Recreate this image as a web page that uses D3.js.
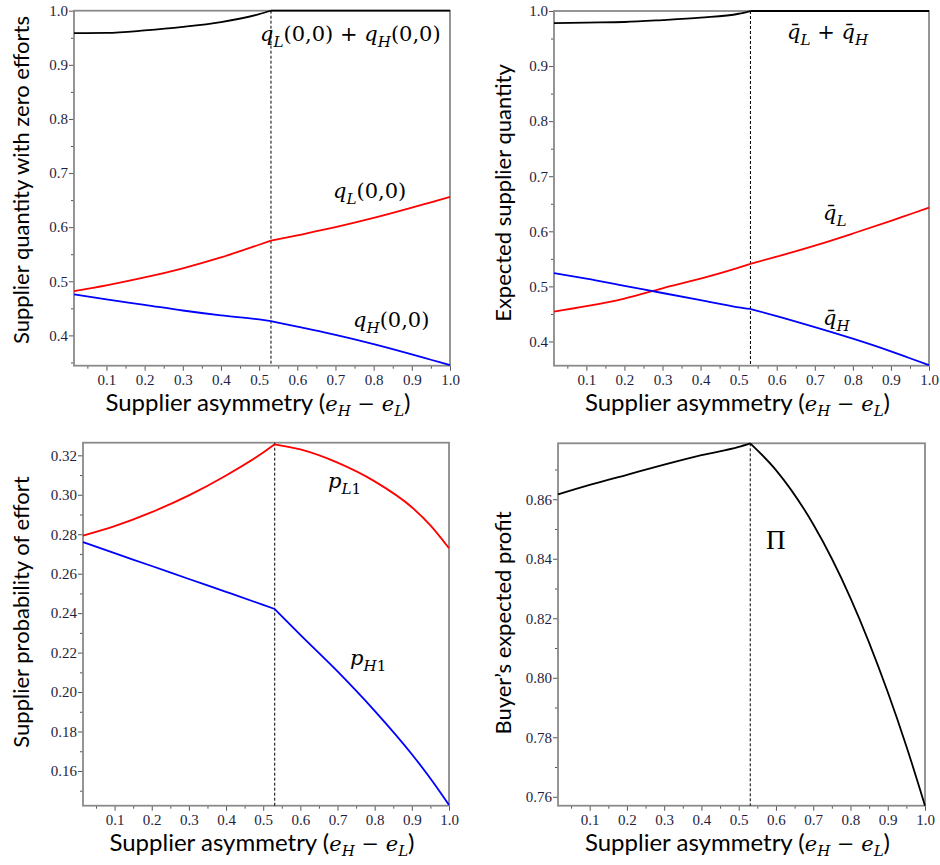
<!DOCTYPE html>
<html>
<head>
<meta charset="utf-8">
<script src="https://cdn.jsdelivr.net/npm/d3@7"></script>
<style>
body { margin: 0; background: #fff; }
</style>
</head>
<body>
<div id="chart-area"></div>
<script>
// kink where the regime switches (dashed line)
const KINK = 0.531

// supplier asymmetry e_H - e_L
const asymmetry = [0.015, 0.1, 0.2, 0.3, 0.4, 0.5, KINK, 0.6, 0.7, 0.8, 0.9, 0.95, 1.0]

// top left: quantities with zero efforts
const qSumZero = [0.9585, 0.959, 0.9635, 0.970, 0.979, 0.9935, 1.0, 1.0, 1.0, 1.0, 1.0, 1.0, 1.0]
const qLZero   = [0.482, 0.4925, 0.507, 0.524, 0.544, 0.5675, 0.575, 0.585, 0.600, 0.617, 0.636, 0.646, 0.656]
const qHZero   = [0.476, 0.4665, 0.4565, 0.446, 0.437, 0.4295, 0.4265, 0.416, 0.401, 0.384, 0.365, 0.355, 0.345]

// top right: expected quantities
const qBarSum = [0.978, 0.979, 0.980, 0.9835, 0.988, 0.995, 1.0, 1.0, 1.0, 1.0, 1.0, 1.0, 1.0]
const qBarL   = [0.454, 0.464, 0.478, 0.4965, 0.514, 0.534, 0.541, 0.554, 0.574, 0.596, 0.619, 0.631, 0.643]
const qBarH   = [0.524, 0.514, 0.501, 0.488, 0.475, 0.462, 0.459, 0.446, 0.426, 0.405, 0.382, 0.3695, 0.357]

// bottom left: probability of effort
const pL1 = [0.2793, 0.2841, 0.2912, 0.2997, 0.3098, 0.3214, 0.3256, 0.3230, 0.3163, 0.3068, 0.2937, 0.2845, 0.2729]
const pH1 = [0.2760, 0.2704, 0.2639, 0.2573, 0.2508, 0.2442, 0.2421, 0.2290, 0.2105, 0.1905, 0.1685, 0.1562, 0.1428]

// bottom right: buyer's expected profit
const profit = [0.8616, 0.8648, 0.8682, 0.8716, 0.8748, 0.8776, 0.8788, 0.8698, 0.8516, 0.8268, 0.7952, 0.7770, 0.757]

// ticks
const xTicks = [0.1, 0.2, 0.3, 0.4, 0.5, 0.6, 0.7, 0.8, 0.9, 1.0]
const xMinor = [0.05, 0.15, 0.25, 0.35, 0.45, 0.55, 0.65, 0.75, 0.85, 0.95]
const qTicks = [0.4, 0.5, 0.6, 0.7, 0.8, 0.9, 1.0]
const qMinor = [0.35, 0.45, 0.55, 0.65, 0.75, 0.85, 0.95]
const pTicks = [0.16, 0.18, 0.20, 0.22, 0.24, 0.26, 0.28, 0.30, 0.32]
const pMinor = [0.15, 0.17, 0.19, 0.21, 0.23, 0.25, 0.27, 0.29, 0.31]
const profitTicks = [0.76, 0.78, 0.80, 0.82, 0.84, 0.86]
const profitMinor = [0.77, 0.79, 0.81, 0.83, 0.85, 0.87]

const MATH_FONT = "'DejaVu Serif', serif"
const TITLE_FONT = "Lato, 'Open Sans', sans-serif"

const svg = d3.select("#chart-area").append("svg")
	.attr("width", 940)
	.attr("height", 865)
	.style("background", "#fff")

// writes math-ish text: parts are [text, kind], kind: i italic, r roman, si/sr subscript
function mathText(parent, x, y, parts, size, anchor) {
	const t = parent.append("text")
		.attr("x", x)
		.attr("y", y)
		.attr("font-family", MATH_FONT)
		.attr("font-size", size + "px")
		.attr("text-anchor", anchor || "start")
		.attr("fill", "#000")
	let down = false
	parts.forEach(([txt, kind]) => {
		const sub = kind[0] === "s"
		const ts = t.append("tspan").text(txt)
		ts.attr("font-style", kind.endsWith("i") ? "italic" : "normal")
		if (sub) ts.attr("font-size", (size * 0.72) + "px")
		if (sub && !down) { ts.attr("dy", size * 0.28); down = true }
		if (!sub && down) { ts.attr("dy", -size * 0.28); down = false }
	})
	return t
}

function drawPanel(p) {
	const x = d3.scaleLinear().domain([0.015, 1.0]).range([p.left, p.right])
	const y = d3.scaleLinear().domain(p.yDomain).range([p.bottom, p.top])
	const inY = v => v >= p.yDomain[0] && v <= p.yDomain[1]
	const g = svg.append("g")

	// x axis
	g.append("g")
		.attr("transform", `translate(0, ${p.bottom})`)
		.call(d3.axisBottom(x).tickValues(xMinor).tickSize(3).tickFormat(""))
		.call(a => a.select(".domain").remove())
	const xa = g.append("g")
		.attr("transform", `translate(0, ${p.bottom})`)
		.call(d3.axisBottom(x).tickValues(xTicks).tickSize(5).tickFormat(d3.format(".1f")))
	xa.select(".domain").remove()
	xa.selectAll("text")
		.attr("y", 9)
		.attr("font-family", "'Liberation Serif', serif")
		.attr("font-size", "15px")
		.attr("fill", "#1e1e40")

	// y axis
	g.append("g")
		.attr("transform", `translate(${p.left}, 0)`)
		.call(d3.axisLeft(y).tickValues(p.yMinor.filter(inY)).tickSize(3).tickFormat(""))
		.call(a => a.select(".domain").remove())
	const ya = g.append("g")
		.attr("transform", `translate(${p.left}, 0)`)
		.call(d3.axisLeft(y).tickValues(p.yTicks.filter(inY)).tickSize(5).tickFormat(d3.format(p.yFormat)))
	ya.select(".domain").remove()
	ya.selectAll("text")
		.attr("x", -6)
		.attr("font-family", "'Liberation Serif', serif")
		.attr("font-size", "15px")
		.attr("fill", "#1e1e40")
	g.selectAll(".tick line").attr("stroke", "#555")

	// frame
	g.append("rect")
		.attr("x", p.left)
		.attr("y", p.top)
		.attr("width", p.right - p.left)
		.attr("height", p.bottom - p.top)
		.attr("fill", "none")
		.attr("stroke", "#8a8a8a")
		.attr("stroke-width", 1.8)

	// dashed kink line
	g.append("line")
		.attr("x1", x(KINK)).attr("x2", x(KINK))
		.attr("y1", p.top).attr("y2", p.bottom)
		.attr("stroke", "#000")
		.attr("stroke-width", 1)
		.attr("stroke-dasharray", "3,2")

	// curves, split at the kink so the corner stays sharp
	const line = d3.line()
		.x(d => x(d[0]))
		.y(d => y(d[1]))
		.curve(d3.curveMonotoneX)
	p.series.forEach(s => {
		const pts = asymmetry.map((a, i) => [a, s.values[i]])
		const left = pts.filter(d => d[0] <= KINK)
		const right = pts.filter(d => d[0] >= KINK)
		;[left, right].forEach(seg => {
			g.append("path")
				.attr("d", line(seg))
				.attr("fill", "none")
				.attr("stroke", s.color)
				.attr("stroke-width", 1.8)
		})
	})

	// y title
	g.append("text")
		.attr("transform", `translate(${p.yTitleX}, ${p.yTitleY}) rotate(-90)`)
		.attr("text-anchor", "middle")
		.attr("font-family", TITLE_FONT)
		.attr("font-size", "22px")
		.attr("fill", "#000")
		.text(p.yTitle)

	// x title
	const xt = g.append("text")
		.attr("x", (p.left + p.right) / 2 - 4)
		.attr("y", p.bottom + 45)
		.attr("text-anchor", "middle")
		.attr("font-size", "24px")
		.attr("fill", "#000")
	xt.append("tspan").attr("font-family", TITLE_FONT).text("Supplier asymmetry (")
	xt.append("tspan").attr("font-family", MATH_FONT).attr("font-style", "italic").attr("font-size", "21px").text("e")
	xt.append("tspan").attr("font-family", MATH_FONT).attr("font-style", "italic").attr("font-size", "15px").attr("dy", 5).text("H")
	xt.append("tspan").attr("font-family", MATH_FONT).attr("font-size", "21px").attr("dy", -5).text(" \u2212 ")
	xt.append("tspan").attr("font-family", MATH_FONT).attr("font-style", "italic").attr("font-size", "21px").text("e")
	xt.append("tspan").attr("font-family", MATH_FONT).attr("font-style", "italic").attr("font-size", "15px").attr("dy", 5).text("L")
	xt.append("tspan").attr("font-family", TITLE_FONT).attr("dy", -5).text(")")

	p.labels.forEach(l => {
		if (l.parts) mathText(g, l.x, l.y, l.parts, l.size || 21, "start")
		else g.append("text")
			.attr("x", l.x).attr("y", l.y)
			.attr("font-family", "'Liberation Serif', serif")
			.attr("font-size", l.size + "px")
			.text(l.text)
	})
}

drawPanel({
	left: 74, right: 450, top: 10.7, bottom: 365.7,
	yDomain: [0.344, 1.0], yTicks: qTicks, yMinor: qMinor, yFormat: ".1f",
	series: [
		{ values: qSumZero, color: "#000" },
		{ values: qLZero, color: "#ff0000" },
		{ values: qHZero, color: "#0000ff" }
	],
	yTitle: "Supplier quantity with zero efforts", yTitleX: 29, yTitleY: 180,
	labels: [
		{ x: 260, y: 41, parts: [["q", "i"], ["L", "si"], ["(0,0) + ", "r"], ["q", "i"], ["H", "si"], ["(0,0)", "r"]] },
		{ x: 333, y: 198, parts: [["q", "i"], ["L", "si"], ["(0,0)", "r"]] },
		{ x: 353, y: 327, parts: [["q", "i"], ["H", "si"], ["(0,0)", "r"]] }
	]
})

drawPanel({
	left: 554, right: 929, top: 11, bottom: 365.7,
	yDomain: [0.356, 1.0], yTicks: qTicks, yMinor: qMinor, yFormat: ".1f",
	series: [
		{ values: qBarSum, color: "#000" },
		{ values: qBarL, color: "#ff0000" },
		{ values: qBarH, color: "#0000ff" }
	],
	yTitle: "Expected supplier quantity", yTitleX: 511, yTitleY: 193,
	labels: [
		{ x: 787, y: 39, parts: [["q\u0304", "i"], ["L", "si"], [" + ", "r"], ["q\u0304", "i"], ["H", "si"]] },
		{ x: 823, y: 220, parts: [["q\u0304", "i"], ["L", "si"]] },
		{ x: 823, y: 325, parts: [["q\u0304", "i"], ["H", "si"]] }
	]
})

drawPanel({
	left: 83, right: 449, top: 442.7, bottom: 805.7,
	yDomain: [0.1424, 0.3264], yTicks: pTicks, yMinor: pMinor, yFormat: ".2f",
	series: [
		{ values: pL1, color: "#ff0000" },
		{ values: pH1, color: "#0000ff" }
	],
	yTitle: "Supplier probability of effort", yTitleX: 29, yTitleY: 612,
	labels: [
		{ x: 328, y: 488, parts: [["p", "i"], ["L", "si"], ["1", "sr"]] },
		{ x: 350, y: 665, parts: [["p", "i"], ["H", "si"], ["1", "sr"]] }
	]
})

drawPanel({
	left: 558, right: 925, top: 443.3, bottom: 805.7,
	yDomain: [0.757, 0.8788], yTicks: profitTicks, yMinor: profitMinor, yFormat: ".2f",
	series: [
		{ values: profit, color: "#000" }
	],
	yTitle: "Buyer\u2019s expected profit", yTitleX: 511, yTitleY: 623,
	labels: [
		{ x: 766, y: 549, text: "\u03a0", size: 27 }
	]
})
</script>
</body>
</html>
